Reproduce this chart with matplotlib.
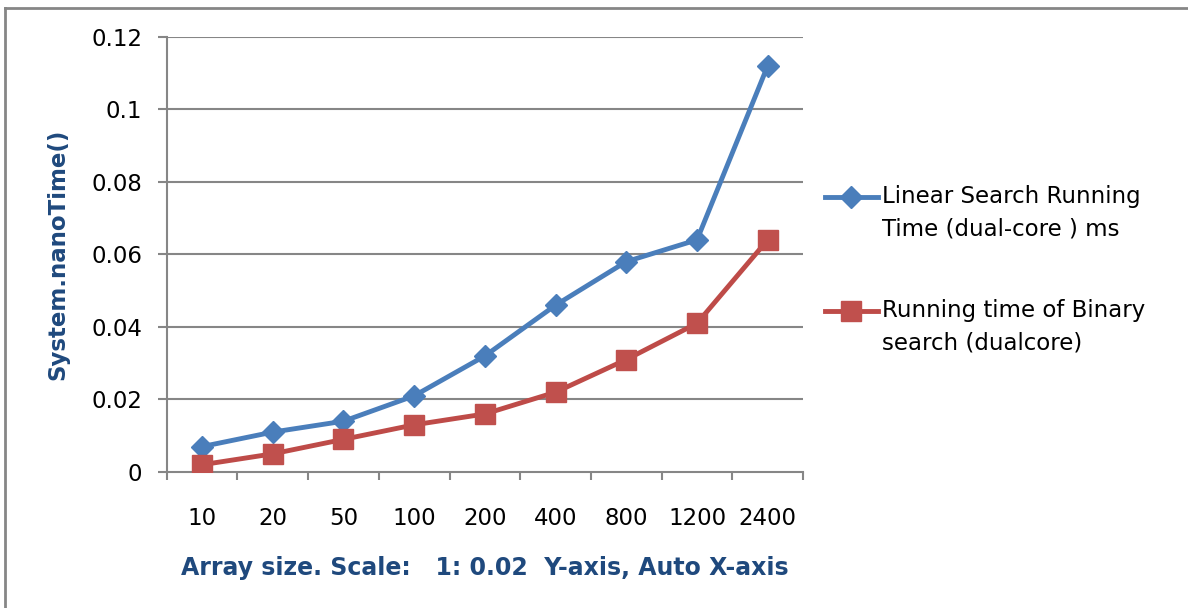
import matplotlib
matplotlib.use("Agg")
import matplotlib.pyplot as plt
from matplotlib.lines import Line2D
import numpy as np

sizes = ['10', '20', '50', '100', '200', '400', '800', '1200', '2400']
linear_ms = [0.007, 0.011, 0.014, 0.021, 0.032, 0.046, 0.058, 0.064, 0.112]
binary_ms = [0.002, 0.005, 0.009, 0.013, 0.016, 0.022, 0.031, 0.041, 0.064]
series_names = ['Linear Search Running\nTime (dual-core ) ms',
                'Running time of Binary\nsearch (dualcore)']
y_ticks = [0, 0.02, 0.04, 0.06, 0.08, 0.1, 0.12]

blue = '#4A7EBB'
red = '#BE4B48'
grid_grey = '#868686'
title_blue = '#1F497D'
fs = 16.5

fig = plt.figure(figsize=(11.88, 6.08), dpi=100)
ax = fig.add_axes([0.1403, 0.2237, 0.5357, 0.7159])

x = np.arange(len(sizes))
ax.plot(x, linear_ms, color=blue, lw=3.5, marker='D', ms=11,
        markerfacecolor=blue, markeredgecolor=blue, zorder=3)
ax.plot(x, binary_ms, color=red, lw=3.5, marker='s', ms=14,
        markerfacecolor='#C0504D', markeredgecolor='#C0504D', zorder=3)

ax.set_xlim(-0.5, len(sizes) - 0.5)
ax.set_ylim(0, 0.12)
ax.set_yticks(y_ticks)
ax.set_yticklabels(['0', '0.02', '0.04', '0.06', '0.08', '0.1', '0.12'])
ax.set_xticks(x)
ax.set_xticklabels(sizes)
ax.set_xticks(np.arange(len(sizes) + 1) - 0.5, minor=True)

for yv in y_ticks[1:]:
    ax.axhline(yv, color=grid_grey, lw=1.5, zorder=1)

for side in ['top', 'right']:
    ax.spines[side].set_visible(False)
for side in ['left', 'bottom']:
    ax.spines[side].set_color(grid_grey)
    ax.spines[side].set_linewidth(1.5)

ax.tick_params(axis='y', direction='out', length=6.5, width=1.5,
               color=grid_grey, labelsize=fs, pad=11)
ax.tick_params(axis='x', which='major', length=0, labelsize=fs, pad=25)
ax.tick_params(axis='x', which='minor', direction='out', length=6,
               width=1.5, color=grid_grey)

ax.set_ylabel('System.nanoTime()', fontsize=16.5, fontweight='bold',
              color=title_blue, labelpad=16)
ax.set_xlabel('Array size. Scale:   1: 0.02  Y-axis, Auto X-axis',
              fontsize=17, fontweight='bold', color=title_blue, labelpad=19)

# legend drawn by hand on the right
for i, (name, col, mk, msz, fc) in enumerate([
        (series_names[0], blue, 'D', 11, blue),
        (series_names[1], red, 's', 14, '#C0504D')]):
    ly = 1 - [197, 311][i] / 608
    fig.add_artist(Line2D([825 / 1188, 878 / 1188], [ly, ly], color=col,
                          lw=3.5, transform=fig.transFigure))
    fig.add_artist(Line2D([851 / 1188], [ly], marker=mk, ms=msz,
                          markerfacecolor=fc, markeredgecolor=fc,
                          transform=fig.transFigure))
    fig.text(882 / 1188, ly + 12 / 608, name, fontsize=fs, va='top',
             ha='left', linespacing=1.5)

# chart frame
fig.add_artist(Line2D([4.5 / 1188, 1], [1 - 7.5 / 608, 1 - 7.5 / 608],
                      color=grid_grey, lw=2, transform=fig.transFigure))
fig.add_artist(Line2D([4.5 / 1188, 4.5 / 1188], [0, 1 - 7.5 / 608],
                      color=grid_grey, lw=2, transform=fig.transFigure))

fig.savefig('out.png', dpi=100, facecolor='white')
